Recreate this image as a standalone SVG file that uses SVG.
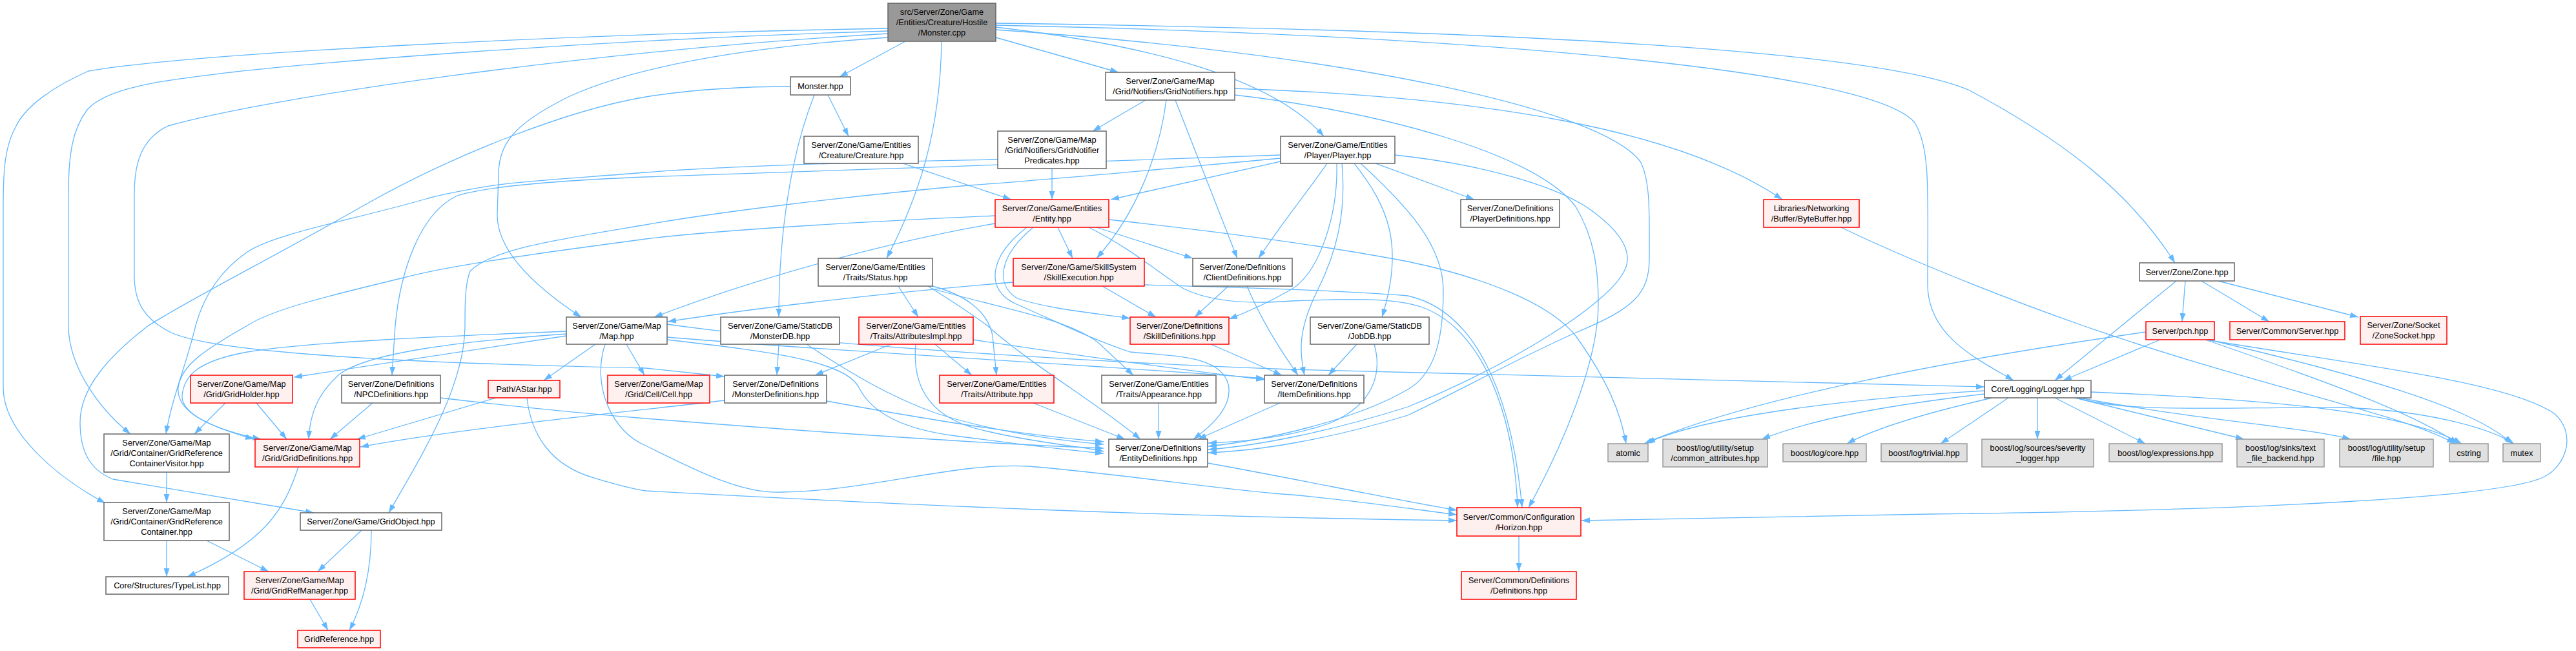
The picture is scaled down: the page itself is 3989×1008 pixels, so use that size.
<svg xmlns="http://www.w3.org/2000/svg" width="3989" height="1008" viewBox="0 0 3989 1008">
<defs>
<marker id="a" markerUnits="userSpaceOnUse" markerWidth="14" markerHeight="10" refX="13" refY="5" orient="auto"><path d="M0,0.5 L13,5 L0,9.5z" fill="#63b8ff"/></marker>
<style>
text{font-family:"Liberation Sans",Arial,sans-serif;font-size:12.8px;text-anchor:middle;fill:#000}
rect{stroke-width:1.5}
.w rect{fill:#fff;stroke:#666}
.r rect{fill:#fff0f0;stroke:#f00}
.g rect{fill:#e0e0e0;stroke:#999}
.root rect{fill:#999;stroke:#666}
#edges path{fill:none;stroke:#63b8ff;stroke-width:1.3;marker-end:url(#a)}
</style>
</defs>
<rect width="3989" height="1008" fill="#fff"/>
<g id="edges">
<path d="M1402,64 L1300,119"/>
<path d="M1458,64 C1456,200 1425,300 1373,400"/>
<path d="M1542,58 L1732,112"/>
<path d="M1542,42 C1780,70 1970,120 2050,211"/>
<path d="M1542,36 C2300,46 2900,75 3050,140 C3200,220 3300,300 3368,407"/>
<path d="M1542,39 C2300,55 2900,110 2965,190 C2990,230 2985,300 2985,440 C2985,520 3060,555 3118,589"/>
<path d="M1542,46 C2100,85 2480,170 2540,250 C2556,280 2554,330 2554,400 C2554,455 2530,478 2440,515 C2340,560 2250,610 2180,643 C2060,680 1950,698 1871,701"/>
<path d="M1375,44 C900,52 300,82 137,110 C80,135 40,165 25,195 C8,225 5,260 5,320 L5,600 C5,670 90,740 163,779"/>
<path d="M1375,48 C900,62 480,98 357,112 C250,125 165,135 135,170 C112,200 106,240 106,300 L106,504 C106,565 150,630 202,672"/>
<path d="M1375,52 C900,80 420,150 260,195 C220,215 208,250 208,300 L208,427 C208,470 225,495 265,515 C320,540 520,560 1000,570 L1122,583"/>
<path d="M1375,58 C1200,70 1000,95 880,150 C800,190 772,220 772,270 L770,333 C770,390 830,445 900,491"/>
<path d="M1282,147 L1314,211"/>
<path d="M1261,147 C1228,230 1206,350 1206,491"/>
<path d="M1224,134 C1120,134 1050,142 1000,150 C880,170 700,240 560,320 C420,400 300,460 230,504 C170,550 124,600 124,654 C124,700 140,728 175,742 L486,794"/>
<path d="M1774,155 L1692,203"/>
<path d="M1806,155 C1795,240 1760,330 1698,400"/>
<path d="M1820,155 L1916,400"/>
<path d="M1912,137 C2300,150 2600,200 2760,309"/>
<path d="M1912,147 C2150,175 2380,240 2440,320 C2470,370 2475,420 2475,470 C2475,560 2420,690 2367,786"/>
<path d="M1629,261 L1629,309"/>
<path d="M1545,247 C1300,251 1080,260 1000,267 C900,275 800,281 765,287 C720,294 690,300 663,307 C550,340 430,360 383,390 C340,420 315,460 303,504 C290,560 265,620 257,672"/>
<path d="M1398,253 L1566,309"/>
<path d="M1983,250 L1720,309"/>
<path d="M2130,253 L2283,309"/>
<path d="M2055,253 C2030,290 1985,345 1949,400"/>
<path d="M2070,253 C2072,330 2045,420 2000,448 C1970,465 1935,482 1903,494"/>
<path d="M2078,253 C2085,330 2070,390 2040,450 C2010,510 2012,545 2020,581"/>
<path d="M2097,253 C2150,320 2175,380 2140,491"/>
<path d="M2107,253 C2180,320 2235,380 2235,450 C2235,530 2220,580 2180,603 C2100,650 1960,682 1871,691"/>
<path d="M2160,240 C2300,255 2420,290 2470,330 C2512,362 2530,392 2515,420 C2490,470 2350,560 2180,630 C2060,668 1950,690 1871,696"/>
<path d="M1983,240 C1700,252 1300,262 1000,274 C850,280 750,290 708,303 C650,330 620,420 612,504 L607,581"/>
<path d="M1983,245 C1800,262 1600,280 1500,287 C1300,305 1100,330 1000,348 C880,368 760,385 728,420 C720,440 720,470 720,504 C720,600 650,710 602,794"/>
<path d="M1638,352 L1661,400"/>
<path d="M1698,352 L1847,400"/>
<path d="M1600,352 C1548,395 1540,440 1575,462 C1630,480 1700,485 1750,493"/>
<path d="M1590,352 C1528,400 1528,450 1572,470 C1640,500 1690,525 1750,545 C1820,552 1890,550 1902,595 C1910,630 1875,660 1848,680"/>
<path d="M1541,346 C1400,370 1200,420 1013,491"/>
<path d="M1541,334 C1300,345 1100,358 1000,370 C850,390 700,410 625,430 C500,460 420,480 383,504 C320,540 280,565 276,600 C272,640 330,662 393,680"/>
<path d="M1717,340 C1900,360 2050,380 2180,405 C2300,430 2400,470 2440,520 C2490,590 2510,640 2518,687"/>
<path d="M1686,352 C1760,390 1790,420 1833,447 C1880,470 1950,470 2000,466 C2100,462 2160,462 2200,475 C2300,510 2345,650 2350,786"/>
<path d="M1569,437 C1350,455 1150,480 1034,498"/>
<path d="M1707,443 L1790,491"/>
<path d="M1772,441 C1900,445 2050,448 2180,458 C2280,480 2340,600 2357,786"/>
<path d="M1902,443 L1850,491"/>
<path d="M1931,443 C1955,500 1985,545 2010,581"/>
<path d="M1391,443 L1422,491"/>
<path d="M1444,443 C1490,455 1530,480 1537,520 L1543,581"/>
<path d="M1444,447 C1550,478 1650,492 1700,530 L1755,581"/>
<path d="M1437,443 C1480,470 1510,490 1530,505 C1590,560 1700,625 1766,680"/>
<path d="M1380,533 L1262,581"/>
<path d="M1448,533 L1505,581"/>
<path d="M1418,533 C1412,600 1440,650 1530,668 C1600,685 1680,692 1709,699"/>
<path d="M1507,526 C1700,555 1850,575 1958,588"/>
<path d="M1206,533 L1203,581"/>
<path d="M1249,533 C1320,580 1380,615 1450,640 C1550,672 1650,683 1709,688"/>
<path d="M1122,620 C950,640 700,665 558,692"/>
<path d="M1280,621 C1450,652 1600,676 1709,684"/>
<path d="M877,520 L455,584"/>
<path d="M922,533 L842,589"/>
<path d="M970,533 L998,581"/>
<path d="M877,517 C720,528 570,545 525,580 C492,610 480,640 478,680"/>
<path d="M877,513 C700,520 470,530 383,545 C300,560 285,585 282,612 C280,640 330,665 404,680"/>
<path d="M1033,502 C1300,540 1800,565 2000,572 C2500,585 2900,595 3073,599"/>
<path d="M1033,522 C1300,545 1700,565 1958,586"/>
<path d="M1033,526 C1200,545 1310,560 1330,600 C1350,640 1400,665 1480,675 C1580,688 1650,697 1709,702"/>
<path d="M937,533 C915,600 950,670 1000,690 C1080,730 1150,765 1210,762 C1350,760 1480,715 1593,722 C1750,735 1900,760 2000,766 C2100,775 2200,790 2256,797"/>
<path d="M1875,533 L1985,581"/>
<path d="M1794,624 L1794,680"/>
<path d="M1600,624 L1742,680"/>
<path d="M1982,624 L1855,680"/>
<path d="M2101,533 L2057,581"/>
<path d="M2128,533 C2140,575 2130,625 2060,655 C2000,676 1930,684 1871,686"/>
<path d="M1870,717 C2000,740 2150,772 2256,790"/>
<path d="M2352,830 L2352,885"/>
<path d="M577,624 L511,680"/>
<path d="M682,616 C800,630 900,640 1000,648 C1300,672 1550,688 1709,694"/>
<path d="M349,624 L301,672"/>
<path d="M397,624 L444,680"/>
<path d="M768,616 L553,680"/>
<path d="M816,616 C822,670 850,720 920,740 C960,752 980,757 1000,760 C1400,782 1800,800 2256,806"/>
<path d="M258,731 L258,778"/>
<path d="M258,837 L258,893"/>
<path d="M320,837 L416,885"/>
<path d="M462,723 C440,790 410,840 290,893"/>
<path d="M560,821 L492,885"/>
<path d="M575,821 C575,880 565,930 541,976"/>
<path d="M480,928 L508,976"/>
<path d="M3370,435 L3182,589"/>
<path d="M3384,435 L3379,498"/>
<path d="M3409,435 L3514,498"/>
<path d="M3435,435 L3652,491"/>
<path d="M3345,526 L3195,589"/>
<path d="M3323,514 C3000,560 2700,620 2546,687"/>
<path d="M3416,526 C3650,565 3880,590 3955,640 C3990,670 3975,720 3940,738 C3880,770 3500,790 2989,796 C2700,800 2550,804 2449,806"/>
<path d="M3415,526 C3600,590 3740,640 3806,687"/>
<path d="M3420,526 C3650,580 3830,630 3890,687"/>
<path d="M2851,352 C2950,400 3100,460 3225,504 C3500,600 3720,640 3802,687"/>
<path d="M3073,605 C2900,615 2650,640 2550,686"/>
<path d="M3073,610 C2900,630 2800,652 2728,680"/>
<path d="M3085,616 C2980,640 2900,665 2860,687"/>
<path d="M3110,616 L3005,687"/>
<path d="M3155,616 L3155,680"/>
<path d="M3182,616 L3322,687"/>
<path d="M3213,616 L3475,680"/>
<path d="M3220,616 C3400,650 3560,660 3640,680"/>
<path d="M3238,607 C3500,618 3720,635 3812,687"/>
<path d="M3219,617 C3300,640 3450,630 3627,631 C3750,635 3850,660 3893,687"/>
</g>
<g id="n-root" class="root"><rect x="1375" y="5" width="167" height="59"/><text x="1458.5" y="23">src/Server/Zone/Game</text><text x="1458.5" y="39">/Entities/Creature/Hostile</text><text x="1458.5" y="55">/Monster.cpp</text></g>
<g id="n-monsterhpp" class="w"><rect x="1224" y="119" width="93" height="28"/><text x="1270.5" y="137.5">Monster.hpp</text></g>
<g id="n-gridnotifiers" class="w"><rect x="1712" y="112" width="200" height="43"/><text x="1812" y="130">Server/Zone/Game/Map</text><text x="1812" y="146">/Grid/Notifiers/GridNotifiers.hpp</text></g>
<g id="n-creature" class="w"><rect x="1245" y="211" width="177" height="42"/><text x="1333.5" y="228.5">Server/Zone/Game/Entities</text><text x="1333.5" y="244.5">/Creature/Creature.hpp</text></g>
<g id="n-predicates" class="w"><rect x="1545" y="203" width="168" height="58"/><text x="1629" y="220.5">Server/Zone/Game/Map</text><text x="1629" y="236.5">/Grid/Notifiers/GridNotifier</text><text x="1629" y="252.5">Predicates.hpp</text></g>
<g id="n-player" class="w"><rect x="1983" y="211" width="177" height="42"/><text x="2071.5" y="228.5">Server/Zone/Game/Entities</text><text x="2071.5" y="244.5">/Player/Player.hpp</text></g>
<g id="n-playerdefs" class="w"><rect x="2262" y="309" width="153" height="43"/><text x="2338.5" y="327">Server/Zone/Definitions</text><text x="2338.5" y="343">/PlayerDefinitions.hpp</text></g>
<g id="n-bytebuffer" class="r"><rect x="2731" y="309" width="148" height="43"/><text x="2805" y="327">Libraries/Networking</text><text x="2805" y="343">/Buffer/ByteBuffer.hpp</text></g>
<g id="n-entity" class="r"><rect x="1541" y="309" width="176" height="43"/><text x="1629" y="327">Server/Zone/Game/Entities</text><text x="1629" y="343">/Entity.hpp</text></g>
<g id="n-status" class="w"><rect x="1267" y="400" width="177" height="43"/><text x="1355.5" y="418">Server/Zone/Game/Entities</text><text x="1355.5" y="434">/Traits/Status.hpp</text></g>
<g id="n-skillexec" class="r"><rect x="1569" y="400" width="203" height="43"/><text x="1670.5" y="418">Server/Zone/Game/SkillSystem</text><text x="1670.5" y="434">/SkillExecution.hpp</text></g>
<g id="n-clientdefs" class="w"><rect x="1847" y="400" width="154" height="43"/><text x="1924" y="418">Server/Zone/Definitions</text><text x="1924" y="434">/ClientDefinitions.hpp</text></g>
<g id="n-zone" class="w"><rect x="3313" y="407" width="147" height="28"/><text x="3386.5" y="425.5">Server/Zone/Zone.hpp</text></g>
<g id="n-map" class="w"><rect x="877" y="491" width="156" height="42"/><text x="955" y="508.5">Server/Zone/Game/Map</text><text x="955" y="524.5">/Map.hpp</text></g>
<g id="n-monsterdb" class="w"><rect x="1116" y="491" width="184" height="42"/><text x="1208" y="508.5">Server/Zone/Game/StaticDB</text><text x="1208" y="524.5">/MonsterDB.hpp</text></g>
<g id="n-attrimpl" class="r"><rect x="1330" y="491" width="177" height="42"/><text x="1418.5" y="508.5">Server/Zone/Game/Entities</text><text x="1418.5" y="524.5">/Traits/AttributesImpl.hpp</text></g>
<g id="n-skilldefs" class="r"><rect x="1750" y="491" width="153" height="42"/><text x="1826.5" y="508.5">Server/Zone/Definitions</text><text x="1826.5" y="524.5">/SkillDefinitions.hpp</text></g>
<g id="n-jobdb" class="w"><rect x="2029" y="491" width="184" height="42"/><text x="2121" y="508.5">Server/Zone/Game/StaticDB</text><text x="2121" y="524.5">/JobDB.hpp</text></g>
<g id="n-pch" class="r"><rect x="3323" y="498" width="106" height="28"/><text x="3376" y="516.5">Server/pch.hpp</text></g>
<g id="n-commonserver" class="r"><rect x="3453" y="498" width="178" height="28"/><text x="3542" y="516.5">Server/Common/Server.hpp</text></g>
<g id="n-zonesocket" class="r"><rect x="3655" y="490" width="134" height="43"/><text x="3722" y="508">Server/Zone/Socket</text><text x="3722" y="524">/ZoneSocket.hpp</text></g>
<g id="n-gridholder" class="r"><rect x="295" y="581" width="158" height="43"/><text x="374" y="599">Server/Zone/Game/Map</text><text x="374" y="615">/Grid/GridHolder.hpp</text></g>
<g id="n-npcdefs" class="w"><rect x="529" y="581" width="153" height="43"/><text x="605.5" y="599">Server/Zone/Definitions</text><text x="605.5" y="615">/NPCDefinitions.hpp</text></g>
<g id="n-astar" class="r"><rect x="756" y="589" width="111" height="27"/><text x="811.5" y="607">Path/AStar.hpp</text></g>
<g id="n-cell" class="r"><rect x="941" y="581" width="158" height="43"/><text x="1020" y="599">Server/Zone/Game/Map</text><text x="1020" y="615">/Grid/Cell/Cell.hpp</text></g>
<g id="n-monsterdefs" class="w"><rect x="1122" y="581" width="158" height="43"/><text x="1201" y="599">Server/Zone/Definitions</text><text x="1201" y="615">/MonsterDefinitions.hpp</text></g>
<g id="n-attribute" class="r"><rect x="1455" y="581" width="177" height="43"/><text x="1543.5" y="599">Server/Zone/Game/Entities</text><text x="1543.5" y="615">/Traits/Attribute.hpp</text></g>
<g id="n-appearance" class="w"><rect x="1706" y="581" width="177" height="43"/><text x="1794.5" y="599">Server/Zone/Game/Entities</text><text x="1794.5" y="615">/Traits/Appearance.hpp</text></g>
<g id="n-itemdefs" class="w"><rect x="1958" y="581" width="154" height="43"/><text x="2035" y="599">Server/Zone/Definitions</text><text x="2035" y="615">/ItemDefinitions.hpp</text></g>
<g id="n-logger" class="w"><rect x="3073" y="589" width="165" height="27"/><text x="3155.5" y="607">Core/Logging/Logger.hpp</text></g>
<g id="n-contvisitor" class="w"><rect x="161" y="672" width="194" height="59"/><text x="258" y="690">Server/Zone/Game/Map</text><text x="258" y="706">/Grid/Container/GridReference</text><text x="258" y="722">ContainerVisitor.hpp</text></g>
<g id="n-griddefs" class="r"><rect x="395" y="680" width="162" height="43"/><text x="476" y="698">Server/Zone/Game/Map</text><text x="476" y="714">/Grid/GridDefinitions.hpp</text></g>
<g id="n-entitydefs" class="w"><rect x="1717" y="680" width="153" height="43"/><text x="1793.5" y="698">Server/Zone/Definitions</text><text x="1793.5" y="714">/EntityDefinitions.hpp</text></g>
<g id="n-atomic" class="g"><rect x="2490" y="687" width="62" height="28"/><text x="2521" y="705.5">atomic</text></g>
<g id="n-commonattr" class="g"><rect x="2575" y="680" width="162" height="43"/><text x="2656" y="698">boost/log/utility/setup</text><text x="2656" y="714">/common_attributes.hpp</text></g>
<g id="n-core" class="g"><rect x="2761" y="687" width="129" height="28"/><text x="2825.5" y="705.5">boost/log/core.hpp</text></g>
<g id="n-trivial" class="g"><rect x="2913" y="687" width="133" height="28"/><text x="2979.5" y="705.5">boost/log/trivial.hpp</text></g>
<g id="n-severity" class="g"><rect x="3069" y="680" width="173" height="43"/><text x="3155.5" y="698">boost/log/sources/severity</text><text x="3155.5" y="714">_logger.hpp</text></g>
<g id="n-expressions" class="g"><rect x="3266" y="687" width="175" height="28"/><text x="3353.5" y="705.5">boost/log/expressions.hpp</text></g>
<g id="n-textfile" class="g"><rect x="3464" y="680" width="135" height="43"/><text x="3531.5" y="698">boost/log/sinks/text</text><text x="3531.5" y="714">_file_backend.hpp</text></g>
<g id="n-filehpp" class="g"><rect x="3623" y="680" width="145" height="43"/><text x="3695.5" y="698">boost/log/utility/setup</text><text x="3695.5" y="714">/file.hpp</text></g>
<g id="n-cstring" class="g"><rect x="3793" y="687" width="60" height="28"/><text x="3823" y="705.5">cstring</text></g>
<g id="n-mutex" class="g"><rect x="3876" y="687" width="58" height="28"/><text x="3905" y="705.5">mutex</text></g>
<g id="n-gridrefcont" class="w"><rect x="161" y="778" width="194" height="59"/><text x="258" y="796">Server/Zone/Game/Map</text><text x="258" y="812">/Grid/Container/GridReference</text><text x="258" y="828">Container.hpp</text></g>
<g id="n-gridobject" class="w"><rect x="465" y="794" width="219" height="27"/><text x="574.5" y="812">Server/Zone/Game/GridObject.hpp</text></g>
<g id="n-horizon" class="r"><rect x="2256" y="786" width="192" height="44"/><text x="2352" y="804.5">Server/Common/Configuration</text><text x="2352" y="820.5">/Horizon.hpp</text></g>
<g id="n-typelist" class="w"><rect x="164" y="893" width="190" height="27"/><text x="259" y="911">Core/Structures/TypeList.hpp</text></g>
<g id="n-gridrefmgr" class="r"><rect x="378" y="885" width="172" height="43"/><text x="464" y="903">Server/Zone/Game/Map</text><text x="464" y="919">/Grid/GridRefManager.hpp</text></g>
<g id="n-definitions" class="r"><rect x="2263" y="885" width="178" height="43"/><text x="2352" y="903">Server/Common/Definitions</text><text x="2352" y="919">/Definitions.hpp</text></g>
<g id="n-gridreference" class="r"><rect x="461" y="976" width="128" height="27"/><text x="525" y="994">GridReference.hpp</text></g>
</svg>
